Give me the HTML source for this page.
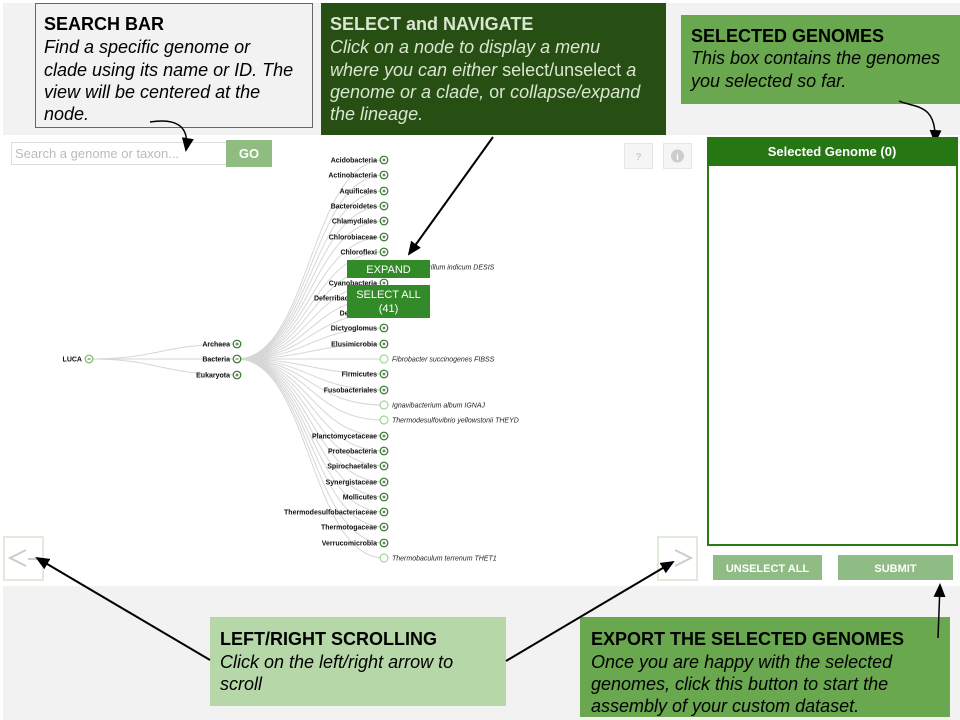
<!DOCTYPE html>
<html><head><meta charset="utf-8"><style>
html,body{margin:0;padding:0;background:#fff;}
svg{display:block;font-family:"Liberation Sans",Arial,sans-serif;}
.cl{font-size:7px;font-weight:bold;fill:#111;text-anchor:end;}
.lf{font-size:7px;font-style:italic;fill:#222;}
.h{font-size:18px;font-weight:bold;}
.t{font-size:18px;font-style:italic;}
</style></head><body>
<svg width="960" height="720" viewBox="0 0 960 720" xmlns="http://www.w3.org/2000/svg">
<defs>
<marker id="ah" markerWidth="14" markerHeight="12" refX="12" refY="6" orient="auto" markerUnits="userSpaceOnUse"><path d="M0,0 L14,6 L0,12 z" fill="#000"/></marker>
</defs>
<rect x="0" y="0" width="960" height="720" fill="#fff"/>
<rect x="3" y="3" width="957" height="132" fill="#f2f2f2"/>
<rect x="3" y="586" width="957" height="134" fill="#f2f2f2"/>

<rect x="35.5" y="3.5" width="277" height="124" fill="#f2f2f2" stroke="#666" stroke-width="1"/>
<text x="44" y="30" class="h" fill="#000">SEARCH BAR</text>
<text class="t" fill="#000"><tspan x="44" y="53">Find a specific genome or</tspan><tspan x="44" y="76">clade using its name or ID. The</tspan><tspan x="44" y="98">view will be centered at the</tspan><tspan x="44" y="120">node.</tspan></text>

<rect x="321" y="3" width="345" height="132" fill="#274e13"/>
<text x="330" y="30" class="h" fill="#d9e6d0">SELECT and NAVIGATE</text>
<text class="t" fill="#d9e6d0"><tspan x="330" y="53">Click on a node to display a menu</tspan><tspan x="330" y="76">where you can either <tspan font-style="normal">select/unselect</tspan> a</tspan><tspan x="330" y="98">genome or a clade, <tspan font-style="normal">or</tspan> collapse/expand</tspan><tspan x="330" y="120">the lineage.</tspan></text>

<rect x="681" y="15" width="279" height="89" fill="#6aa84f"/>
<text x="691" y="42" class="h" fill="#000">SELECTED GENOMES</text>
<text class="t" fill="#000"><tspan x="691" y="64">This box contains the genomes</tspan><tspan x="691" y="87">you selected so far.</tspan></text>

<rect x="11.5" y="142.5" width="215" height="22" fill="#fff" stroke="#ddd"/>
<text x="15" y="158" font-size="13" fill="#bbb">Search a genome or taxon...</text>
<rect x="226" y="140" width="46" height="27" fill="#8fbc80"/>
<text x="249" y="158" font-size="13" font-weight="bold" fill="#fff" text-anchor="middle">GO</text>
<rect x="624.5" y="143.5" width="28" height="25" fill="#f5f5f5" stroke="#e6e6e6"/>
<text x="638.5" y="160" font-size="10" font-weight="bold" fill="#ccc" text-anchor="middle">?</text>
<rect x="663.5" y="143.5" width="28" height="25" fill="#f5f5f5" stroke="#e6e6e6"/>
<circle cx="677.5" cy="156" r="6.5" fill="#ccc"/>
<text x="677.5" y="160" font-size="9" font-weight="bold" fill="#fff" text-anchor="middle">i</text>

<path d="M150,122 C175,118 190,125 186,150" fill="none" stroke="#000" stroke-width="1.5" marker-end="url(#ah)"/>
<line x1="493" y1="137" x2="409" y2="254" stroke="#000" stroke-width="2" marker-end="url(#ah)"/>
<path d="M899,101 C915,108 937,103 935,142" fill="none" stroke="#000" stroke-width="1.5" marker-end="url(#ah)"/>

<rect x="708" y="138" width="249" height="407" fill="#fff" stroke="#2a7a16" stroke-width="2"/>
<rect x="707" y="137" width="251" height="29" fill="#267614"/>
<text x="832" y="156" font-size="13" font-weight="bold" fill="#fff" text-anchor="middle">Selected Genome (0)</text>
<rect x="713" y="555" width="109" height="25" fill="#8fbc84"/>
<text x="767.5" y="572" font-size="11" font-weight="bold" fill="#fff" text-anchor="middle">UNSELECT ALL</text>
<rect x="838" y="555" width="115" height="25" fill="#8fbc84"/>
<text x="895.5" y="572" font-size="11" font-weight="bold" fill="#fff" text-anchor="middle">SUBMIT</text>

<rect x="4" y="537" width="39" height="43" fill="#fff" stroke="#d5e6cf" stroke-width="1.5"/>
<path d="M26,550 L10,558 L26,566 M28,559 L40,559" fill="none" stroke="#ccc" stroke-width="2"/>
<rect x="658" y="537" width="39" height="43" fill="#fff" stroke="#d5e6cf" stroke-width="1.5"/>
<path d="M675,550 L691,558 L675,566" fill="none" stroke="#ccc" stroke-width="2"/>

<g fill="none" stroke="#d6d6d6" stroke-width="1">
<path d="M89,359 C160,359 160,344 237,344"/>
<path d="M89,359 L237,359"/>
<path d="M89,359 C160,359 160,375 237,375"/>
<path d="M237,359 C310,359 310,160 384,160"/>
<path d="M237,359 C310,359 310,175 384,175"/>
<path d="M237,359 C310,359 310,191 384,191"/>
<path d="M237,359 C310,359 310,206 384,206"/>
<path d="M237,359 C310,359 310,221 384,221"/>
<path d="M237,359 C310,359 310,237 384,237"/>
<path d="M237,359 C310,359 310,252 384,252"/>
<path d="M237,359 C310,359 310,267 384,267"/>
<path d="M237,359 C310,359 310,283 384,283"/>
<path d="M237,359 C310,359 310,298 384,298"/>
<path d="M237,359 C310,359 310,313 384,313"/>
<path d="M237,359 C310,359 310,328 384,328"/>
<path d="M237,359 C310,359 310,344 384,344"/>
<path d="M237,359 L384,359"/>
<path d="M237,359 C310,359 310,374 384,374"/>
<path d="M237,359 C310,359 310,390 384,390"/>
<path d="M237,359 C310,359 310,405 384,405"/>
<path d="M237,359 C310,359 310,420 384,420"/>
<path d="M237,359 C310,359 310,436 384,436"/>
<path d="M237,359 C310,359 310,451 384,451"/>
<path d="M237,359 C310,359 310,466 384,466"/>
<path d="M237,359 C310,359 310,482 384,482"/>
<path d="M237,359 C310,359 310,497 384,497"/>
<path d="M237,359 C310,359 310,512 384,512"/>
<path d="M237,359 C310,359 310,527 384,527"/>
<path d="M237,359 C310,359 310,543 384,543"/>
<path d="M237,359 C310,359 310,558 384,558"/>
</g>

<g fill="#fff" stroke="#2d7a22" stroke-width="1.2">
<circle cx="89" cy="359" r="3.8" stroke="#6cbf5c"/>
<circle cx="237" cy="344" r="3.8"/><circle cx="237" cy="359" r="3.8"/><circle cx="237" cy="375" r="3.8"/>
<circle cx="384" cy="160" r="3.8"/><circle cx="384" cy="175" r="3.8"/><circle cx="384" cy="191" r="3.8"/><circle cx="384" cy="206" r="3.8"/><circle cx="384" cy="221" r="3.8"/><circle cx="384" cy="237" r="3.8"/><circle cx="384" cy="252" r="3.8"/><circle cx="384" cy="283" r="3.8"/><circle cx="384" cy="298" r="3.8"/><circle cx="384" cy="313" r="3.8"/><circle cx="384" cy="328" r="3.8"/><circle cx="384" cy="344" r="3.8"/><circle cx="384" cy="374" r="3.8"/><circle cx="384" cy="390" r="3.8"/><circle cx="384" cy="436" r="3.8"/><circle cx="384" cy="451" r="3.8"/><circle cx="384" cy="466" r="3.8"/><circle cx="384" cy="482" r="3.8"/><circle cx="384" cy="497" r="3.8"/><circle cx="384" cy="512" r="3.8"/><circle cx="384" cy="527" r="3.8"/><circle cx="384" cy="543" r="3.8"/>
</g>
<g fill="#fff" stroke="#8fce84" stroke-width="1">
<circle cx="384" cy="267" r="4"/><circle cx="384" cy="359" r="4"/><circle cx="384" cy="405" r="4"/><circle cx="384" cy="420" r="4"/><circle cx="384" cy="558" r="4"/>
</g>
<g stroke="#222" stroke-width="0.7">
<path d="M87.5,359h3M235.5,359h3"/>
<path d="M235.5,344h3M237,342.5v3M235.5,375h3M237,373.5v3"/>
<path d="M382.5,160h3M384,158.5v3 M382.5,175h3M384,173.5v3 M382.5,191h3M384,189.5v3 M382.5,206h3M384,204.5v3 M382.5,221h3M384,219.5v3 M382.5,237h3M384,235.5v3 M382.5,252h3M384,250.5v3 M382.5,283h3M384,281.5v3 M382.5,298h3M384,296.5v3 M382.5,313h3M384,311.5v3 M382.5,328h3M384,326.5v3 M382.5,344h3M384,342.5v3 M382.5,374h3M384,372.5v3 M382.5,390h3M384,388.5v3 M382.5,436h3M384,434.5v3 M382.5,451h3M384,449.5v3 M382.5,466h3M384,464.5v3 M382.5,482h3M384,480.5v3 M382.5,497h3M384,495.5v3 M382.5,512h3M384,510.5v3 M382.5,527h3M384,525.5v3 M382.5,543h3M384,541.5v3"/>
</g>

<text x="82" y="361.5" class="cl">LUCA</text>
<text x="230" y="346.5" class="cl">Archaea</text>
<text x="230" y="361.5" class="cl">Bacteria</text>
<text x="230" y="377.5" class="cl">Eukaryota</text>
<text x="377" y="162.5" class="cl">Acidobacteria</text>
<text x="377" y="177.5" class="cl">Actinobacteria</text>
<text x="377" y="193.5" class="cl">Aquificales</text>
<text x="377" y="208.5" class="cl">Bacteroidetes</text>
<text x="377" y="223.5" class="cl">Chlamydiales</text>
<text x="377" y="239.5" class="cl">Chlorobiaceae</text>
<text x="377" y="254.5" class="cl">Chloroflexi</text>
<text x="392" y="269.5" class="lf">Desulfurispirillum indicum DESIS</text>
<text x="377" y="285.5" class="cl">Cyanobacteria</text>
<text x="377" y="300.5" class="cl">Deferribacteraceae</text>
<text x="377" y="315.5" class="cl">Deinococci</text>
<text x="377" y="330.5" class="cl">Dictyoglomus</text>
<text x="377" y="346.5" class="cl">Elusimicrobia</text>
<text x="392" y="361.5" class="lf">Fibrobacter succinogenes FIBSS</text>
<text x="377" y="376.5" class="cl">Firmicutes</text>
<text x="377" y="392.5" class="cl">Fusobacteriales</text>
<text x="392" y="407.5" class="lf">Ignavibacterium album IGNAJ</text>
<text x="392" y="422.5" class="lf">Thermodesulfovibrio yellowstonii THEYD</text>
<text x="377" y="438.5" class="cl">Planctomycetaceae</text>
<text x="377" y="453.5" class="cl">Proteobacteria</text>
<text x="377" y="468.5" class="cl">Spirochaetales</text>
<text x="377" y="484.5" class="cl">Synergistaceae</text>
<text x="377" y="499.5" class="cl">Mollicutes</text>
<text x="377" y="514.5" class="cl">Thermodesulfobacteriaceae</text>
<text x="377" y="529.5" class="cl">Thermotogaceae</text>
<text x="377" y="545.5" class="cl">Verrucomicrobia</text>
<text x="392" y="560.5" class="lf">Thermobaculum terrenum THET1</text>

<rect x="347" y="260" width="83" height="18" fill="#338a28"/>
<text x="388.5" y="273" font-size="11" fill="#fff" text-anchor="middle">EXPAND</text>
<rect x="347" y="285" width="83" height="33" fill="#338a28"/>
<text x="388.5" y="298" font-size="11" fill="#fff" text-anchor="middle">SELECT ALL</text>
<text x="388.5" y="312" font-size="11" fill="#fff" text-anchor="middle">(41)</text>

<rect x="210" y="617" width="296" height="89" fill="#b6d7a8"/>
<text x="220" y="645" class="h" fill="#000">LEFT/RIGHT  SCROLLING</text>
<text class="t" fill="#000"><tspan x="220" y="668">Click on the left/right arrow to</tspan><tspan x="220" y="690">scroll</tspan></text>
<rect x="580" y="617" width="370" height="100" fill="#6aa84f"/>
<text x="591" y="645" class="h" fill="#000">EXPORT THE SELECTED GENOMES</text>
<text class="t" fill="#000"><tspan x="591" y="668">Once you are happy with the selected</tspan><tspan x="591" y="690">genomes, click this button to start the</tspan><tspan x="591" y="712">assembly of your custom dataset.</tspan></text>

<line x1="210" y1="660" x2="37" y2="558" stroke="#000" stroke-width="2" marker-end="url(#ah)"/>
<line x1="506" y1="661" x2="673" y2="562" stroke="#000" stroke-width="2" marker-end="url(#ah)"/>
<line x1="938" y1="638" x2="940" y2="585" stroke="#000" stroke-width="1.5" marker-end="url(#ah)"/>
</svg>
</body></html>
